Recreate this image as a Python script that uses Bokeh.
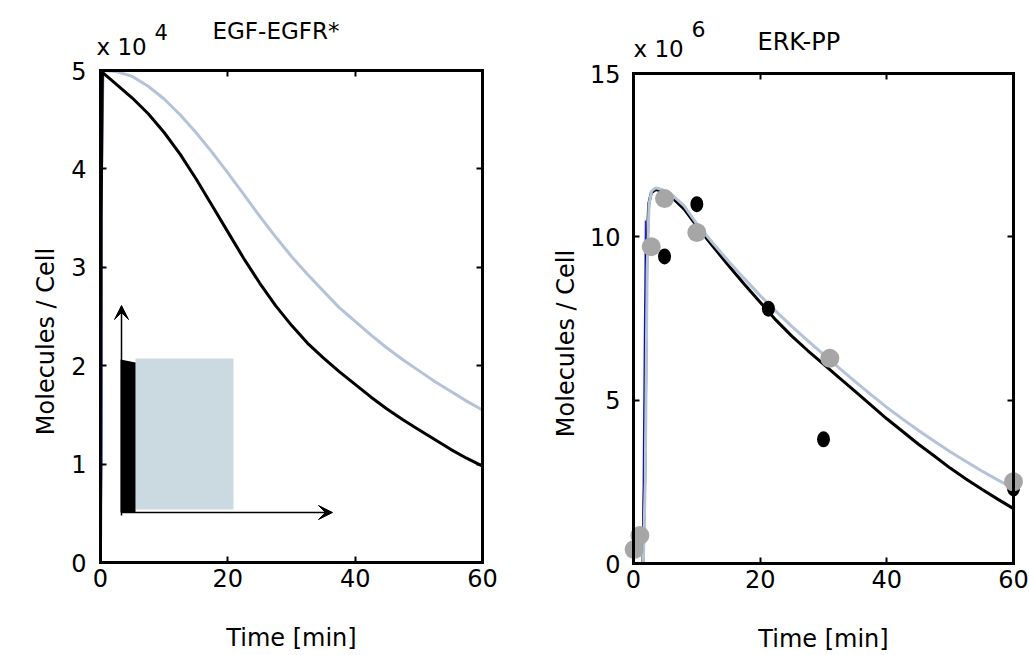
from bokeh.plotting import figure
from bokeh.layouts import row
from bokeh.models import (Range1d, LinearAxis, FixedTicker, Label, Arrow, VeeHead,
                          CustomLabelingPolicy)
from bokeh.embed import file_html
from bokeh.resources import INLINE

FONT = "DejaVu Sans"

# ---------------- data: EGF-EGFR* (units of 10^4 molecules/cell) ----------------
egf_black_t = [0, 0.1, 0.3, 2.5, 5, 7.5, 10, 12.5, 15, 17.5, 20, 22.5, 25, 27.5, 30, 32.5,
               35, 37.5, 40, 42.5, 45, 47.5, 50, 52.5, 55, 57.5, 60]
egf_black_v = [0, 3.5, 4.98, 4.86, 4.72, 4.56, 4.37, 4.15, 3.9, 3.63, 3.36, 3.09, 2.84, 2.61,
               2.41, 2.23, 2.08, 1.94, 1.81, 1.68, 1.56, 1.45, 1.35, 1.25, 1.15, 1.06, 0.98]
egf_grey_t = [0, 0.15, 0.4, 2.5, 5, 7.5, 10, 12.5, 15, 17.5, 20, 22.5, 25, 27.5, 30, 32.5,
              35, 37.5, 40, 42.5, 45, 47.5, 50, 52.5, 55, 57.5, 60]
egf_grey_v = [0, 4.0, 5.0, 4.99, 4.94, 4.84, 4.71, 4.55, 4.37, 4.17, 3.96, 3.74, 3.52, 3.31,
              3.11, 2.93, 2.76, 2.59, 2.45, 2.31, 2.18, 2.06, 1.95, 1.84, 1.74, 1.64, 1.55]
egf_blue_t = [0, 0.2, 0.3, 0.5]
egf_blue_v = [0, 1.0, 4.8, 4.98]

# ---------------- data: ERK-PP (units of 10^6 molecules/cell) ----------------
erk_black_t = [0, 1.5, 1.8, 2.1, 2.4, 2.8, 3.5, 4.5, 6, 8, 10, 12.5, 15, 17.5, 20, 22.5, 25,
               27.5, 30, 32.5, 35, 37.5, 40, 42.5, 45, 47.5, 50, 52.5, 55, 57.5, 60]
erk_black_v = [0, 0, 3.0, 9.5, 11.0, 11.35, 11.45, 11.4, 11.22, 10.85, 10.33, 9.72, 9.12,
               8.55, 8.0, 7.45, 6.96, 6.52, 6.1, 5.68, 5.27, 4.85, 4.43, 4.04, 3.65, 3.29,
               2.92, 2.59, 2.27, 1.97, 1.68]
erk_grey_t = [0, 1.55, 1.85, 2.15, 2.45, 2.85, 3.5, 4.5, 6, 8, 10, 12.5, 15, 17.5, 20, 22.5,
              25, 27.5, 30, 32.5, 35, 37.5, 40, 42.5, 45, 47.5, 50, 52.5, 55, 57.5, 60]
erk_grey_v = [0, 0, 2.5, 9.0, 11.0, 11.4, 11.5, 11.45, 11.3, 10.95, 10.4, 9.82, 9.25, 8.72,
              8.2, 7.72, 7.26, 6.82, 6.4, 5.98, 5.57, 5.17, 4.78, 4.42, 4.07, 3.74, 3.42,
              3.12, 2.83, 2.56, 2.3]
erk_blue_t = [0, 1.45, 1.65, 1.9]
erk_blue_v = [0, 0, 5.0, 10.5]

erk_exp_grey_t = [0.1, 1.0, 2.8, 4.9, 10.0, 31.0, 60.0]
erk_exp_grey_v = [0.43, 0.86, 9.7, 11.17, 10.13, 6.28, 2.5]
erk_exp_black_t = [4.9, 10.0, 21.3, 30.0, 60.0]
erk_exp_black_v = [9.4, 11.0, 7.8, 3.8, 2.3]

x_ticks = [0, 20, 40, 60]
egf_y_ticks = [0, 1, 2, 3, 4, 5]
erk_y_ticks = [0, 5, 10, 15]

GREY_LINE = "#b4c3d8"
GREY_DOT = "#a6a6a6"
BLUE = "#1f1fff"
H = 655

NO_LABELS = CustomLabelingPolicy(code="""
for (const i of indices)
  indices.unset(i)
""")


def make_panel(W, L, R, T, B, xmax, ymax):
    """Figure whose frame fills the whole canvas; the axes box sits at pixels L..R, T..B."""
    sx = (R - L) / xmax
    sy = (B - T) / ymax
    p = figure(width=W, height=H, min_border=0,
               x_range=Range1d(-L / sx, xmax + (W - R) / sx),
               y_range=Range1d(-(H - B) / sy, ymax + T / sy),
               x_axis_location=None, y_axis_location=None, title=None,
               output_backend="svg", toolbar_location=None)
    p.outline_line_color = None
    p.background_fill_color = "white"
    p.border_fill_color = "white"
    p.grid.visible = False

    def px(x):
        return (x - L) / sx

    def py(y):
        return (B - y) / sy
    return p, px, py


def style_axis(ax, ticks, labels=True):
    ax.ticker = FixedTicker(ticks=ticks)
    ax.axis_line_width = 3
    ax.axis_line_color = "black"
    ax.axis_line_cap = "square"
    ax.major_tick_in = 6
    ax.major_tick_out = 0
    ax.major_tick_line_width = 2
    ax.major_tick_line_color = "black"
    ax.minor_tick_line_color = None
    ax.major_label_text_font = FONT
    ax.major_label_text_color = "black"
    ax.major_label_text_font_size = "24px"
    ax.axis_label_text_font = FONT
    ax.axis_label_text_font_size = "24px"
    ax.axis_label_text_font_style = "normal"
    ax.axis_label_text_color = "black"
    if not labels:
        ax.major_label_policy = NO_LABELS
        ax.major_label_standoff = 0


def add_box(p, xmax, ymax, yticks, ylab_center, ylab_standoff, ytick_standoff):
    bottom = LinearAxis(fixed_location=0, bounds=(0, xmax), axis_label="Time [min]")
    style_axis(bottom, x_ticks)
    bottom.major_label_standoff = 6
    bottom.axis_label_standoff = 34
    p.add_layout(bottom, "below")

    top = LinearAxis(fixed_location=ymax, bounds=(0, xmax))
    style_axis(top, x_ticks, labels=False)
    p.add_layout(top, "above")

    left = LinearAxis(fixed_location=0, bounds=(0, ymax))
    style_axis(left, yticks)
    left.major_label_standoff = ytick_standoff
    p.add_layout(left, "left")

    # axis carrying only the y-axis title, centred where the reference has it
    half = ymax / 2.0
    ylab = LinearAxis(fixed_location=0, bounds=(ylab_center - half, ylab_center + half),
                      axis_label="Molecules / Cell")
    style_axis(ylab, [])
    ylab.axis_line_color = None
    ylab.major_tick_line_color = None
    ylab.axis_label_standoff = ylab_standoff
    p.add_layout(ylab, "left")

    right = LinearAxis(fixed_location=xmax, bounds=(0, ymax))
    style_axis(right, yticks, labels=False)
    p.add_layout(right, "right")


def text(p, x, y, s, size):
    p.add_layout(Label(x=x, y=y, text=s, text_font=FONT, text_font_size=size,
                       text_baseline="alphabetic", text_align="left", text_color="black"))


# ======================= left: EGF-EGFR* =======================
p1, px1, py1 = make_panel(515, 100, 482, 70, 562, 60, 5)
add_box(p1, 60, 5, egf_y_ticks, py1(341), 41, 14)

# inset sketch
p1.quad(left=[px1(135)], right=[px1(233)], bottom=[py1(509)], top=[py1(358)],
        fill_color="#cbd9e1", line_color=None)
p1.patch([px1(120), px1(135), px1(135), px1(120)], [py1(512), py1(512), py1(362), py1(359)],
         fill_color="black", line_color=None)
p1.add_layout(Arrow(end=VeeHead(size=14, fill_color="black", line_color="black"),
                    x_start=px1(121), y_start=py1(515), x_end=px1(121), y_end=py1(305),
                    line_width=1.5, line_color="black"))
p1.add_layout(Arrow(end=VeeHead(size=14, fill_color="black", line_color="black"),
                    x_start=px1(121), y_start=py1(512), x_end=px1(332), y_end=py1(512),
                    line_width=1.5, line_color="black"))

p1.line(egf_blue_t, egf_blue_v, line_color=BLUE, line_width=1.5)
p1.line(egf_grey_t, egf_grey_v, line_color=GREY_LINE, line_width=3)
p1.line(egf_black_t, egf_black_v, line_color="black", line_width=3)

text(p1, px1(96), py1(46), "x 10", "23px")
text(p1, px1(154), py1(31), "4", "21px")
text(p1, px1(212), py1(30), "EGF-EGFR*", "23px")

# ======================= right: ERK-PP =======================
p2, px2, py2 = make_panel(514, 118, 498, 73, 563, 60, 15)
add_box(p2, 60, 15, erk_y_ticks, py2(343), 54, 13)

p2.line(erk_blue_t, erk_blue_v, line_color=BLUE, line_width=1.5)
p2.line(erk_black_t, erk_black_v, line_color="black", line_width=3)
p2.line(erk_grey_t, erk_grey_v, line_color=GREY_LINE, line_width=3)
p2.ellipse(x=erk_exp_black_t, y=erk_exp_black_v, width=13, height=16,
           width_units="screen", height_units="screen", fill_color="black", line_color=None)
p2.scatter(x=erk_exp_grey_t, y=erk_exp_grey_v, size=19, marker="circle",
           fill_color=GREY_DOT, line_color=None)

text(p2, px2(118), py2(48), "x 10", "23px")
text(p2, px2(176), py2(28), "6", "22px")
text(p2, px2(242), py2(41), "ERK-PP", "24px")

layout = row(p1, p2)
open("out.html", "w").write(file_html(layout, INLINE))
